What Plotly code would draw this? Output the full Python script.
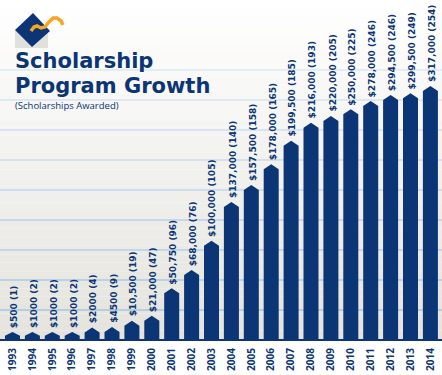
import plotly.graph_objects as go

# ---------------- data ----------------
years = [1993, 1994, 1995, 1996, 1997, 1998, 1999, 2000, 2001, 2002, 2003,
         2004, 2005, 2006, 2007, 2008, 2009, 2010, 2011, 2012, 2013, 2014]
amounts = [500, 1000, 1000, 1000, 2000, 4500, 10500, 21000, 50750, 68000, 100000,
           137000, 157500, 178000, 199500, 216000, 220000, 250000, 278000, 294500, 299500, 317000]
counts = [1, 2, 2, 2, 4, 9, 19, 47, 96, 76, 105,
          140, 158, 165, 185, 193, 205, 225, 246, 246, 249, 254]
# bar heights as drawn in the graphic (tip of each arrow bar, in $ thousands-scale units)
drawn_heights = [7, 7, 7, 7, 11.5, 12, 18.3, 23.3, 50.7, 69, 98.3,
                 137, 154, 174.7, 198.3, 216.3, 223, 229.7, 238, 244, 245.7, 253]

NAVY = "#0b3574"
W, H = 442, 375
ML, MR, MT, MB = 0, 0, 0, 34
PH = H - MT - MB  # plot height in px


def fmt_amount(a):
    return f"${a:,}" if a >= 10000 else f"${a}"


labels = [f"{fmt_amount(a)} ({c})" for a, c in zip(amounts, counts)]


def px(xp):
    return xp / W


def py(yp):
    return 1 - yp / PH


fig = go.Figure()

# arrow-shaped bars (rectangle with pointed cap)
hw = 0.377
cap = 5.0
xs, ys = [], []
for i, h in enumerate(drawn_heights):
    sh = max(h - cap, h * 0.45)
    xs += [i - hw, i - hw, i, i + hw, i + hw, i - hw, None]
    ys += [0, sh, h, sh, 0, 0, None]
fig.add_trace(go.Scatter(x=xs, y=ys, mode="lines", fill="toself", fillcolor=NAVY,
                         line=dict(width=0, color=NAVY), hoverinfo="skip", showlegend=False))

# value labels above bars
for i, (h, lab) in enumerate(zip(drawn_heights, labels)):
    fig.add_annotation(x=i + 0.06, y=h, text=lab, textangle=-90, showarrow=False,
                       xanchor="center", yanchor="bottom", yshift=2,
                       font=dict(family="DejaVu Sans", size=9, color=NAVY, weight="bold"))

shapes = []
# background gradient
nb = 40
top = (255, 255, 255)
bot = (228, 227, 221)
for k in range(nb):
    t = (k + 0.5) / nb
    c = tuple(round(top[j] + (bot[j] - top[j]) * t) for j in range(3))
    shapes.append(dict(type="rect", xref="paper", yref="paper", layer="below",
                       x0=0, x1=1, y0=py(339 * (k + 1) / nb), y1=py(339 * k / nb),
                       line=dict(width=0), fillcolor="rgb(%d,%d,%d)" % c))
# grid lines (fading toward the top)
grid_px = [310, 280, 250, 220, 190, 160, 130, 100, 70]
for gp in grid_px:
    t = (310 - gp) / 240
    c0 = (180, 206, 230)
    c1 = (228, 236, 245)
    c = tuple(round(c0[j] + (c1[j] - c0[j]) * t) for j in range(3))
    shapes.append(dict(type="line", xref="paper", yref="paper", layer="below",
                       x0=0, x1=1, y0=py(gp), y1=py(gp),
                       line=dict(width=2, color="rgb(%d,%d,%d)" % c)))
# baseline band
shapes.append(dict(type="rect", xref="paper", yref="y", x0=0, x1=1, y0=-2, y1=0,
                   line=dict(width=0), fillcolor=NAVY))

# logo: grey shadow, diamond, orange swoosh
shapes.append(dict(type="rect", xref="paper", yref="paper", layer="above",
                   x0=px(15), x1=px(48), y0=py(48), y1=py(31),
                   line=dict(width=0), fillcolor="#e0e0dc"))
dpts = [(33, 13), (50, 31), (32, 47), (15, 30)]
path = "M " + " L ".join(f"{px(a)},{py(b)}" for a, b in dpts) + " Z"
shapes.append(dict(type="path", xref="paper", yref="paper", path=path,
                   fillcolor=NAVY, line=dict(width=0)))
sw = [(31, 31), (34, 27), (37, 26), (41, 28), (45, 27), (49, 22), (53, 18), (57, 18), (61, 21), (63, 25)]
spath = "M " + " L ".join(f"{px(a)},{py(b)}" for a, b in sw)
shapes.append(dict(type="path", xref="paper", yref="paper", path=spath,
                   line=dict(width=3.5, color="#f5a623")))

fig.update_layout(shapes=shapes)

# title
title_font = dict(family="DejaVu Sans", size=21, color=NAVY, weight="bold")
fig.add_annotation(xref="paper", yref="paper", x=px(13), y=py(61), text="Scholarship",
                   showarrow=False, xanchor="left", yanchor="middle", font=title_font)
fig.add_annotation(xref="paper", yref="paper", x=px(13), y=py(86), text="Program Growth",
                   showarrow=False, xanchor="left", yanchor="middle", font=title_font)
fig.add_annotation(xref="paper", yref="paper", x=px(13), y=py(106), text="(Scholarships Awarded)",
                   showarrow=False, xanchor="left", yanchor="middle",
                   font=dict(family="Open Sans", size=9.5, color=NAVY))

fig.update_layout(
    width=W, height=H,
    margin=dict(l=ML, r=MR, t=MT, b=MB, pad=0),
    paper_bgcolor="white", plot_bgcolor="white",
    xaxis=dict(range=[-0.628, 21.583], tickmode="array",
               tickvals=list(range(len(years))), ticktext=[str(y) for y in years],
               tickangle=-90, showgrid=False, zeroline=False, showline=False,
               ticks="outside", ticklen=2, tickcolor="rgba(0,0,0,0)",
               tickfont=dict(family="Open Sans", size=10, color=NAVY, weight="bold"),
               automargin=False, fixedrange=True),
    yaxis=dict(range=[-2, 339], showgrid=False, zeroline=False, showticklabels=False,
               showline=False, automargin=False, fixedrange=True),
    showlegend=False,
)

fig.write_html("out.html", config={"displayModeBar": False},
               post_script="document.body.style.margin='0px';document.body.style.overflow='hidden';")
